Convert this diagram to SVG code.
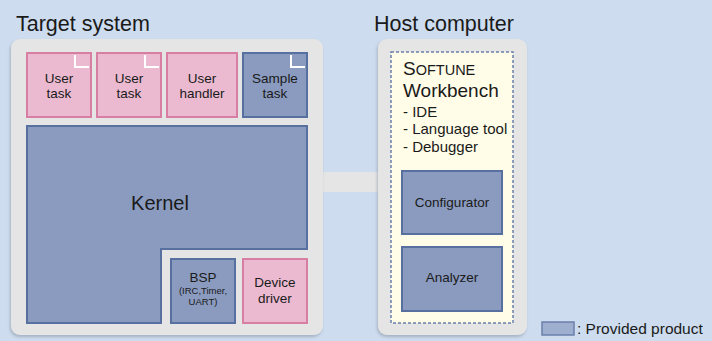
<svg xmlns="http://www.w3.org/2000/svg" width="712" height="341" viewBox="0 0 712 341">
  <style>
    text { font-family: "Liberation Sans", Arial, sans-serif; fill: #1a1a1a; }
    .panel { fill: #e5e5e5; }
    .pink { fill: #ebbad0; stroke: #d97ea3; stroke-width: 2; }
    .blue { fill: #8a9bbf; stroke: #57709f; stroke-width: 2; }
    .mark { fill: none; stroke: #ffffff; stroke-width: 2; }
    .title { font-size: 21.5px; }
    .lbl { font-size: 13.5px; text-anchor: middle; }
    .item { font-size: 15px; }
  </style>
  <defs>
    <filter id="shadow" x="-10%" y="-10%" width="120%" height="120%">
      <feDropShadow dx="-1" dy="2" stdDeviation="1.5" flood-color="#7d8899" flood-opacity="0.5"/>
    </filter>
  </defs>

  <!-- background -->
  <rect x="0" y="0" width="712" height="341" fill="#cddcee"/>

  <!-- titles -->
  <text class="title" x="16" y="31">Target system</text>
  <text class="title" x="374" y="31">Host computer</text>

  <!-- link between target and host -->
  <g id="connectors">
    <rect x="318" y="172" width="66" height="20" fill="#e5e5e5"/>
  </g>

  <!-- target system panel -->
  <g id="target-system">
    <rect class="panel" x="11" y="39" width="312" height="296" rx="9" filter="url(#shadow)"/>
  </g>

  <g id="user-task-1">
    <rect class="pink" x="27" y="53" width="64" height="64"/>
    <polyline class="mark" points="75,55 75,67 89,67"/>
    <text class="lbl" x="59" y="83">User</text>
    <text class="lbl" x="59" y="98">task</text>
  </g>
  <g id="user-task-2">
    <rect class="pink" x="97" y="53" width="64" height="64"/>
    <polyline class="mark" points="145,55 145,67 159,67"/>
    <text class="lbl" x="129" y="83">User</text>
    <text class="lbl" x="129" y="98">task</text>
  </g>
  <g id="user-handler">
    <rect class="pink" x="167" y="53" width="70" height="64"/>
    <text class="lbl" x="202" y="83">User</text>
    <text class="lbl" x="202" y="98">handler</text>
  </g>
  <g id="sample-task">
    <rect class="blue" x="243" y="53" width="64" height="64"/>
    <polyline class="mark" points="291,55 291,67 305,67"/>
    <text class="lbl" x="275" y="83">Sample</text>
    <text class="lbl" x="275" y="98">task</text>
  </g>

  <g id="kernel">
    <polygon class="blue" points="27,126 307,126 307,249 161,249 161,323 27,323"/>
    <text x="160" y="210" font-size="20" text-anchor="middle">Kernel</text>
  </g>

  <g id="bsp">
    <rect class="blue" x="171" y="259" width="64" height="64"/>
    <text class="lbl" x="203" y="282" font-size="14">BSP</text>
    <text x="203" y="294" font-size="9.5" text-anchor="middle">(IRC,Timer,</text>
    <text x="203" y="305" font-size="9.5" text-anchor="middle">UART)</text>
  </g>

  <g id="device-driver">
    <rect class="pink" x="243" y="259" width="64" height="64"/>
    <text class="lbl" x="275" y="287">Device</text>
    <text class="lbl" x="275" y="303">driver</text>
  </g>

  <!-- host computer panel -->
  <g id="host-computer">
    <rect class="panel" x="378" y="39" width="149" height="296" rx="9" filter="url(#shadow)"/>
  </g>

  <g id="softune-workbench">
    <rect x="391" y="52" width="122" height="271" fill="#fffde8" stroke="#6a7fab" stroke-width="1.5" stroke-dasharray="3,2"/>
    <text x="403" y="75" font-family="Liberation Serif, Times New Roman, serif" font-size="19">S<tspan font-size="14.5">OFTUNE</tspan></text>
    <text x="403" y="97" font-size="19">Workbench</text>
    <text class="item" x="403" y="117">- IDE</text>
    <text class="item" x="403" y="134">- Language tool</text>
    <text class="item" x="403" y="152">- Debugger</text>
  </g>

  <g id="configurator">
    <rect class="blue" x="402" y="171" width="100" height="63"/>
    <text class="lbl" x="452" y="207">Configurator</text>
  </g>

  <g id="analyzer">
    <rect class="blue" x="402" y="247" width="100" height="64"/>
    <text class="lbl" x="452" y="282">Analyzer</text>
  </g>

  <!-- legend -->
  <g id="legend">
    <rect x="542" y="322" width="32" height="13" fill="#9fafd0" stroke="#6a80ab" stroke-width="1.5"/>
    <text x="577" y="334" font-size="15.5">: Provided product</text>
  </g>
</svg>
